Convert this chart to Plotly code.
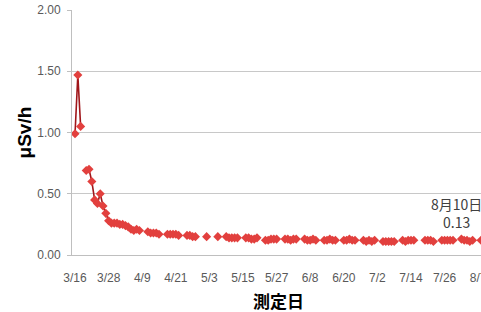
import plotly.graph_objects as go
from datetime import date, timedelta

# measurement dates (2011) and dose rates (μSv/h)
dates_daily = ["2011-03-16", "2011-03-17", "2011-03-18", "2011-03-20", "2011-03-21",
               "2011-03-22", "2011-03-23", "2011-03-24", "2011-03-25", "2011-03-26",
               "2011-03-27", "2011-03-28", "2011-03-29", "2011-03-30", "2011-03-31",
               "2011-04-01", "2011-04-02", "2011-04-03", "2011-04-04", "2011-04-05",
               "2011-04-06", "2011-04-07", "2011-04-08"]
values_daily = [0.99, 1.47, 1.05, 0.69, 0.70,
                0.60, 0.45, 0.42, 0.50, 0.40,
                0.34, 0.28, 0.26, 0.26, 0.26,
                0.25, 0.25, 0.24, 0.23, 0.21,
                0.20, 0.21, 0.20]

dates_weekday = [
    "2011-04-11", "2011-04-12", "2011-04-13", "2011-04-14", "2011-04-15",
    "2011-04-18", "2011-04-19", "2011-04-20", "2011-04-21", "2011-04-22",
    "2011-04-25", "2011-04-26", "2011-04-27", "2011-04-28",
    "2011-05-02", "2011-05-06",
    "2011-05-09", "2011-05-10", "2011-05-11", "2011-05-12", "2011-05-13",
    "2011-05-16", "2011-05-17", "2011-05-18", "2011-05-19", "2011-05-20",
    "2011-05-23", "2011-05-24", "2011-05-25", "2011-05-26", "2011-05-27",
    "2011-05-30", "2011-05-31", "2011-06-01", "2011-06-02", "2011-06-03",
    "2011-06-06", "2011-06-07", "2011-06-08", "2011-06-09", "2011-06-10",
    "2011-06-13", "2011-06-14", "2011-06-15", "2011-06-16", "2011-06-17",
    "2011-06-20", "2011-06-21", "2011-06-22", "2011-06-23", "2011-06-24",
    "2011-06-27", "2011-06-28", "2011-06-29", "2011-06-30", "2011-07-01",
    "2011-07-04", "2011-07-05", "2011-07-06", "2011-07-07", "2011-07-08",
    "2011-07-11", "2011-07-12", "2011-07-13", "2011-07-14", "2011-07-15",
    "2011-07-19", "2011-07-20", "2011-07-21", "2011-07-22",
    "2011-07-25", "2011-07-26", "2011-07-27", "2011-07-28", "2011-07-29",
    "2011-08-01", "2011-08-02", "2011-08-03", "2011-08-04", "2011-08-05",
    "2011-08-08", "2011-08-09", "2011-08-10"]
values_weekday = [
    0.19, 0.18, 0.18, 0.18, 0.17,
    0.17, 0.17, 0.17, 0.17, 0.16,
    0.16, 0.16, 0.15, 0.15,
    0.15, 0.15,
    0.15, 0.14, 0.14, 0.14, 0.14,
    0.14, 0.14, 0.13, 0.13, 0.14,
    0.12, 0.12, 0.13, 0.13, 0.13,
    0.13, 0.13, 0.12, 0.13, 0.13,
    0.13, 0.12, 0.12, 0.13, 0.12,
    0.12, 0.12, 0.13, 0.12, 0.12,
    0.12, 0.12, 0.13, 0.12, 0.12,
    0.12, 0.11, 0.12, 0.11, 0.12,
    0.11, 0.11, 0.11, 0.11, 0.11,
    0.12, 0.11, 0.12, 0.12, 0.12,
    0.12, 0.12, 0.12, 0.11,
    0.12, 0.12, 0.12, 0.12, 0.12,
    0.13, 0.12, 0.12, 0.11, 0.12,
    0.12, 0.12, 0.13]

tick_dates = ["2011-03-16", "2011-03-28", "2011-04-09", "2011-04-21", "2011-05-03",
              "2011-05-15", "2011-05-27", "2011-06-08", "2011-06-20", "2011-07-02",
              "2011-07-14", "2011-07-26", "2011-08-07"]
tick_labels = ["3/16", "3/28", "4/9", "4/21", "5/3", "5/15", "5/27", "6/8",
               "6/20", "7/2", "7/14", "7/26", "8/7"]

label_text = "8月10日<br>0.13"

# Build series with gaps (None) where days are missing
all_dates = dates_daily + dates_weekday
all_vals = values_daily + values_weekday
xs, ys = [], []
prev = None
for d, v in zip(all_dates, all_vals):
    cur = date.fromisoformat(d)
    if prev is not None and (cur - prev).days > 1:
        xs.append((prev + timedelta(days=1)).isoformat())
        ys.append(None)
    xs.append(d)
    ys.append(v)
    prev = cur

fig = go.Figure()
fig.add_trace(go.Scatter(
    x=xs, y=ys, mode="lines+markers", connectgaps=False,
    line=dict(color="#A0161A", width=1.6),
    marker=dict(symbol="diamond", size=7, color="#E2403E", line=dict(width=0)),
    hoverinfo="skip", showlegend=False,
))

tick_font = dict(family="Liberation Sans, Arial, sans-serif", size=12, color="#595959")

fig.update_layout(
    width=481, height=312,
    margin=dict(l=72, r=0, t=10, b=57, autoexpand=False),
    paper_bgcolor="white", plot_bgcolor="white",
    xaxis=dict(
        type="date", automargin=False,
        range=["2011-03-14 22:00", "2011-08-08 00:00"],
        tickvals=tick_dates, ticktext=tick_labels,
        tickfont=tick_font, showgrid=False, zeroline=False,
        showline=True, linecolor="#BFBFBF", linewidth=1,
        ticks="", ticklabelstandoff=12, ticklabeloverflow="allow",
    ),
    yaxis=dict(
        automargin=False,
        range=[0, 2], tickvals=[0, 0.5, 1.0, 1.5, 2.0], tickformat=".2f",
        tickfont=tick_font, showgrid=True, gridcolor="#C8C8C8", gridwidth=1,
        zeroline=False, showline=True, linecolor="#BFBFBF", linewidth=1,
        ticks="outside", ticklen=4, tickcolor="#BFBFBF", ticklabelstandoff=4,
    ),
    annotations=[
        dict(text="μSv/h", xref="paper", yref="paper", x=-0.115, y=0.5,
             textangle=-90, showarrow=False, xanchor="center", yanchor="middle",
             font=dict(family="Liberation Sans, Arial, sans-serif", size=19,
                       color="#000000", weight="bold")),
        dict(text="測定日", xref="paper", yref="paper", x=0.504, y=-0.185,
             showarrow=False, xanchor="center", yanchor="middle",
             font=dict(family="Noto Sans CJK JP", size=17, color="#000000",
                       weight="bold")),
        dict(text=label_text, xref="paper", yref="paper", x=0.94, y=0.17,
             showarrow=False, xanchor="center", yanchor="middle", align="center",
             font=dict(family="Noto Sans CJK JP, Liberation Sans", size=14,
                       color="#404040")),
    ],
)

fig.write_html("out.html", config={"displayModeBar": False},
               post_script="document.body.style.margin='0';document.body.style.overflow='hidden';")
